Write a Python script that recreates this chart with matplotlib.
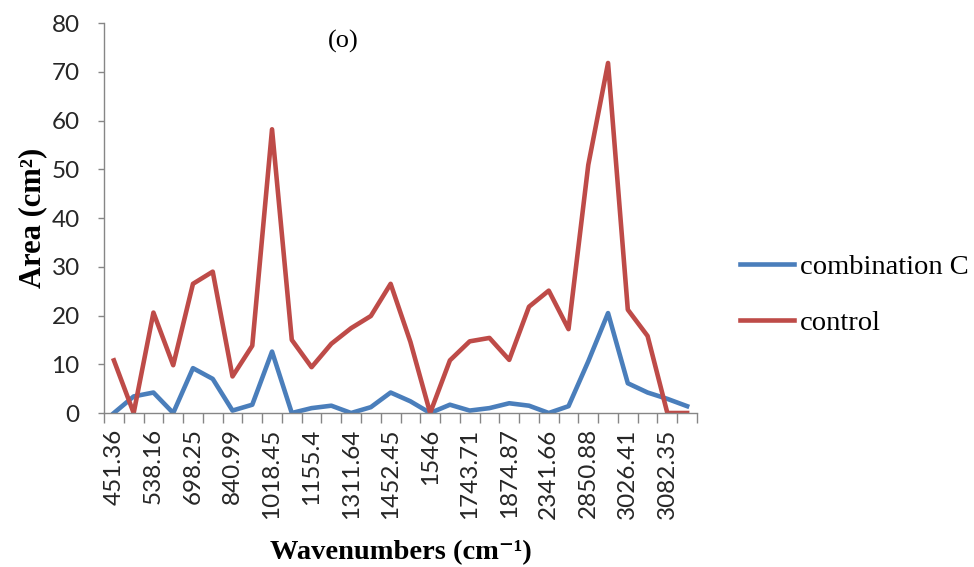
import numpy as np
import matplotlib.pyplot as plt

# wavenumber labels (only every other category carries a label)
wavenumbers = ['451.36', '', '538.16', '', '698.25', '', '840.99', '',
               '1018.45', '', '1155.4', '', '1311.64', '', '1452.45', '',
               '1546', '', '1743.71', '', '1874.87', '', '2341.66', '',
               '2850.88', '', '3026.41', '', '3082.35', '']

combination_c = [0, 3.4, 4.2, 0, 9.2, 7.0, 0.5, 1.7, 12.6, 0,
                 1.0, 1.5, 0, 1.2, 4.2, 2.4, 0, 1.7, 0.5, 1.0,
                 2.0, 1.5, 0, 1.4, 10.6, 20.5, 6.1, 4.2, 2.9, 1.4]

control = [10.8, 0, 20.6, 9.8, 26.5, 29.0, 7.5, 13.8, 58.2, 15.0,
           9.4, 14.2, 17.4, 19.9, 26.5, 14.6, 0, 10.8, 14.7, 15.4,
           10.9, 21.8, 25.1, 17.2, 50.9, 71.8, 21.2, 15.8, 0, 0]

x = np.arange(len(wavenumbers))
serif = ['Liberation Serif', 'DejaVu Serif']

fig = plt.figure(figsize=(9.74, 5.67), dpi=100)
ax = fig.add_axes([0.1068, 0.2716, 0.6088, 0.6878])

ax.plot(x, combination_c, color='#4A7EBB', lw=3.3, label='combination C',
        solid_joinstyle='round')
ax.plot(x, control, color='#BE4B48', lw=3.3, label='control',
        solid_joinstyle='round')

ax.set_xlim(-0.5, len(x) - 0.5)
ax.set_ylim(0, 80)
ax.set_yticks(np.arange(0, 81, 10))

# labels at category centres, tick marks on category borders
ax.set_xticks(x)
ax.set_xticklabels(wavenumbers, rotation=90, fontsize=17.5, family='Lato')
ax.set_xticks(np.arange(-0.5, len(x)), minor=True)
ax.tick_params(axis='x', which='major', length=0, pad=11)
ax.tick_params(axis='x', which='minor', length=7, color='#868686', width=1)
ax.tick_params(axis='y', length=4.5, color='#868686', width=1, pad=13)
for lab in ax.get_yticklabels():
    lab.set_fontsize(17.5)
    lab.set_family('Lato')
    lab.set_color('#262626')
for lab in ax.get_xticklabels():
    lab.set_color('#262626')

for side in ['top', 'right']:
    ax.spines[side].set_visible(False)
for side in ['left', 'bottom']:
    ax.spines[side].set_color('#868686')
    ax.spines[side].set_linewidth(1)

ax.set_xlabel('Wavenumbers (cm\u207b\u00b9)', fontsize=20.5,
              fontweight='bold', family=serif, labelpad=15)
ax.set_ylabel('Area (cm\u00b2)', fontsize=22,
              fontweight='bold', family=serif, labelpad=3)

ax.text(0.403, 0.952, '(o)', transform=ax.transAxes, fontsize=19,
        family=serif, ha='center', va='center')

ax.legend(loc='center left', bbox_to_anchor=(740 / 974, 1 - 295 / 567),
          bbox_transform=fig.transFigure, frameon=False,
          prop={'family': serif, 'size': 20.5},
          borderpad=0, borderaxespad=0,
          handlelength=1.9, labelspacing=1.05, handletextpad=0.2)

fig.savefig('out.png', dpi=100)
